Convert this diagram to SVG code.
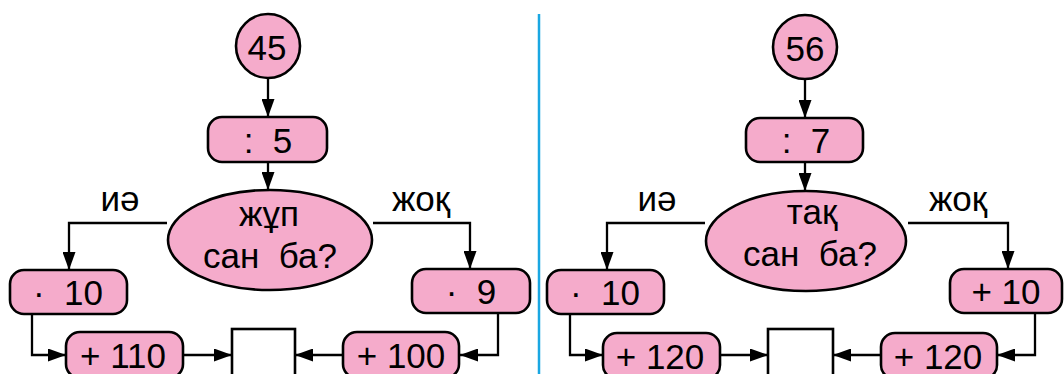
<svg xmlns="http://www.w3.org/2000/svg" width="1064" height="374" viewBox="0 0 1064 374">
<defs>
<style>
.n{fill:#f5abcb;stroke:#000;stroke-width:2.6}
.sq{fill:#fff;stroke:#000;stroke-width:2.6}
.t{font-family:"Liberation Sans",Arial,sans-serif;font-size:35px;fill:#000;text-anchor:middle;white-space:pre}
.c{fill:none;stroke:#000;stroke-width:2.3}
.sep{stroke:#1aa7e2;stroke-width:2.5}
</style>
<marker id="ah" viewBox="0 0 18 13" refX="18" refY="6.5" markerWidth="18" markerHeight="13" markerUnits="userSpaceOnUse" orient="auto">
<path d="M0,0 L18,6.5 L0,13 z" fill="#000"/>
</marker>
</defs>
<rect width="1064" height="374" fill="#fff"/>
<line class="sep" x1="539" y1="14" x2="539" y2="374"/>

<g id="connectors">
<line class="c" x1="268" y1="78" x2="268" y2="117" marker-end="url(#ah)"/>
<line class="c" x1="268" y1="162" x2="268" y2="190" marker-end="url(#ah)"/>
<polyline class="c" points="167,223 69,223 69,270" marker-end="url(#ah)"/>
<polyline class="c" points="373,223 470,223 470,269" marker-end="url(#ah)"/>
<polyline class="c" points="32,314 32,355 66,355" marker-end="url(#ah)"/>
<line class="c" x1="183" y1="355" x2="232" y2="355" marker-end="url(#ah)"/>
<line class="c" x1="343" y1="355" x2="295" y2="355" marker-end="url(#ah)"/>
<polyline class="c" points="498,313 498,355 460,355" marker-end="url(#ah)"/>

<line class="c" x1="805" y1="79" x2="805" y2="118" marker-end="url(#ah)"/>
<line class="c" x1="805" y1="162" x2="805" y2="191" marker-end="url(#ah)"/>
<polyline class="c" points="705,223 607,223 607,270" marker-end="url(#ah)"/>
<polyline class="c" points="908,223 1008,223 1008,269" marker-end="url(#ah)"/>
<polyline class="c" points="570,314 570,355 603,355" marker-end="url(#ah)"/>
<line class="c" x1="720" y1="355" x2="768" y2="355" marker-end="url(#ah)"/>
<line class="c" x1="881" y1="355" x2="833" y2="355" marker-end="url(#ah)"/>
<polyline class="c" points="1035,313 1035,355 997,355" marker-end="url(#ah)"/>
</g>

<g id="label-yes-1"><text class="t" x="120" y="211">иә</text></g>
<g id="label-no-1"><text class="t" x="421" y="211">жоқ</text></g>
<g id="label-yes-2"><text class="t" x="657" y="211">иә</text></g>
<g id="label-no-2"><text class="t" x="958" y="211">жоқ</text></g>

<g id="start-1"><circle class="n" cx="268" cy="46" r="32"/><text class="t" x="267" y="60">45</text></g>
<g id="div-1"><rect class="n" x="208" y="117" width="119" height="45" rx="14"/><text class="t" x="268" y="153" xml:space="preserve">:  5</text></g>
<g id="cond-1"><ellipse class="n" cx="270" cy="240" rx="102" ry="50"/><text class="t" x="269" y="226">жұп</text><text class="t" x="270" y="268" xml:space="preserve">сан  ба?</text></g>
<g id="mul-1"><rect class="n" x="10" y="270" width="117" height="44" rx="14"/><text class="t" x="68" y="305" xml:space="preserve">·  10</text></g>
<g id="add-1a"><rect class="n" x="66" y="332" width="117" height="46" rx="14"/><text class="t" x="123" y="368">+ 110</text></g>
<g id="result-1"><rect class="sq" x="232" y="329" width="63" height="52"/></g>
<g id="add-1b"><rect class="n" x="343" y="332" width="116" height="46" rx="14"/><text class="t" x="401" y="368">+ 100</text></g>
<g id="mul-1b"><rect class="n" x="412" y="269" width="118" height="44" rx="14"/><text class="t" x="471" y="304" xml:space="preserve">·  9</text></g>

<g id="start-2"><circle class="n" cx="805" cy="47" r="32"/><text class="t" x="805" y="61">56</text></g>
<g id="div-2"><rect class="n" x="746" y="118" width="117" height="44" rx="14"/><text class="t" x="806" y="153" xml:space="preserve">:  7</text></g>
<g id="cond-2"><ellipse class="n" cx="806" cy="241" rx="100" ry="50"/><text class="t" x="812" y="224">тақ</text><text class="t" x="810" y="266" xml:space="preserve">сан  ба?</text></g>
<g id="mul-2"><rect class="n" x="547" y="270" width="117" height="44" rx="14"/><text class="t" x="605" y="305" xml:space="preserve">·  10</text></g>
<g id="add-2a"><rect class="n" x="603" y="333" width="117" height="46" rx="14"/><text class="t" x="660" y="369">+ 120</text></g>
<g id="result-2"><rect class="sq" x="768" y="329" width="65" height="52"/></g>
<g id="add-2b"><rect class="n" x="881" y="333" width="116" height="46" rx="14"/><text class="t" x="938" y="369">+ 120</text></g>
<g id="add-2c"><rect class="n" x="950" y="269" width="112" height="44" rx="14"/><text class="t" x="1006" y="304">+ 10</text></g>
</svg>
